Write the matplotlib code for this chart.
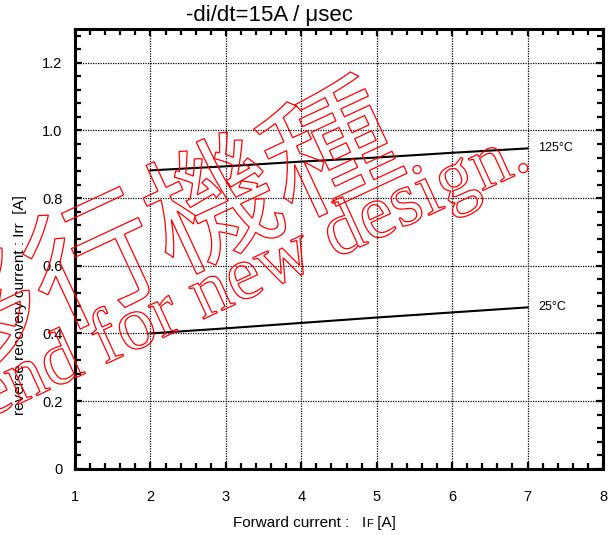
import matplotlib
matplotlib.use("Agg")
import matplotlib.pyplot as plt
from matplotlib.textpath import TextPath
from matplotlib.font_manager import FontProperties
from matplotlib.patches import PathPatch
from matplotlib.transforms import Affine2D
from matplotlib.ticker import MultipleLocator, FuncFormatter

plt.rcParams['font.family'] = ['Liberation Sans', 'DejaVu Sans']

# data
forward_current = [2, 3, 4, 5, 6, 7]
irr_125 = [0.882, 0.894, 0.908, 0.920, 0.934, 0.947]
irr_25 = [0.400, 0.415, 0.431, 0.447, 0.462, 0.477]
series_labels = ["125°C", "25°C"]
title = "-di/dt=15A / μsec"
ylabel = "reverse recovery current : Irr  [A]"
watermark_jp = "移行機種"
watermark_en = "Not recommend for new design."

W, H, DPI = 616, 535, 100
fig = plt.figure(figsize=(W / DPI, H / DPI), dpi=DPI)
L, R, T, B = 75, 603, 29, 468.7
ax = fig.add_axes([L / W, 1 - B / H, (R - L) / W, (B - T) / H])

ax.plot(forward_current, irr_125, color='black', lw=1.5)
ax.plot(forward_current, irr_25, color='black', lw=1.5)
ax.text(7.14, irr_125[-1], series_labels[0], fontsize=9, va='center', ha='left')
ax.text(7.14, irr_25[-1], series_labels[1], fontsize=9, va='center', ha='left')

ax.set_xlim(1, 8)
ax.set_ylim(0, 1.3)
ax.xaxis.set_major_locator(MultipleLocator(1))
ax.xaxis.set_minor_locator(MultipleLocator(0.2))
ax.yaxis.set_major_locator(MultipleLocator(0.2))
ax.yaxis.set_minor_locator(MultipleLocator(0.04))
ax.yaxis.set_major_formatter(FuncFormatter(lambda v, p: "0" if abs(v) < 1e-9 else f"{v:.1f}"))
ax.grid(True, which='major', color='black', linestyle=(0, (1, 1)), lw=0.9)
ax.tick_params(which='both', direction='in', top=True, right=True, width=1.6, color='black')
ax.tick_params(which='major', length=5)
ax.tick_params(which='minor', length=4)
ax.tick_params(axis='x', which='major', pad=15, labelsize=10.5)
ax.tick_params(axis='y', which='major', pad=9, labelsize=10.5)
for s in ax.spines.values():
    s.set_linewidth(2.2)

fig.text(270 / W, 1 - 15 / H, title, fontsize=16, ha='center', va='center')
fig.text(20 / W, 1 - 305 / H, ylabel, fontsize=11, rotation=90, ha='center', va='center')

# x label with small F
renderer = fig.canvas.get_renderer()
x0 = 233 / W
yl = 1 - 527 / H
t1 = fig.text(x0, yl, "Forward current :   I", fontsize=11, ha='left', va='baseline')
bb = t1.get_window_extent(renderer)
t2 = fig.text(bb.x1 / W, yl, "F", fontsize=8, ha='left', va='baseline')
bb2 = t2.get_window_extent(renderer)
fig.text(bb2.x1 / W, yl, " [A]", fontsize=11, ha='left', va='baseline')


def outlined(s, family, weight, size_pt, cx, cy, angle, mode):
    fp = FontProperties(family=family, weight=weight)
    tp = TextPath((0, 0), s, size=size_pt, prop=fp)
    ext = tp.get_extents()
    ox = (ext.x0 + ext.x1) / 2
    oy = (ext.y0 + ext.y1) / 2 if mode == 'bbox' else 0
    tr = (Affine2D().translate(-ox, -oy).rotate_deg(angle).scale(1 / 72)
          .translate(cx / DPI, (H - cy) / DPI) + fig.dpi_scale_trans)
    p = PathPatch(tp, transform=tr, facecolor='none', edgecolor='red', lw=0.9, zorder=20)
    fig.add_artist(p)


outlined(watermark_jp, 'Noto Sans CJK JP', 'normal', 94, 150, 230, 25, 'bbox')
outlined(watermark_en, 'Liberation Serif', 'normal', 55, 84, 374, 24.7, 'base')

fig.savefig("out.png", dpi=DPI)
